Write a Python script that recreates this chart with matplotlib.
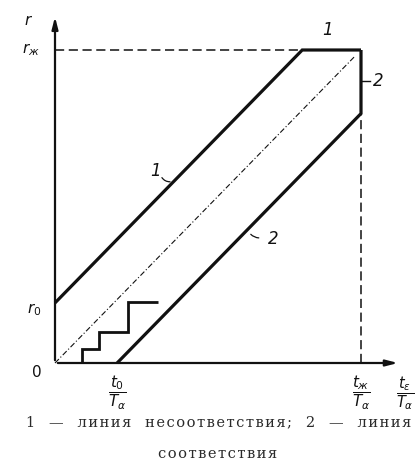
import matplotlib
matplotlib.use("Agg")
import matplotlib.pyplot as plt

# ---- data (normalised units: t_zh/T_a = 1, r_zh = 1) ----
t0 = 0.203          # t0 / T_alpha
r0 = 0.192          # r0
t_end = 1.0         # t_zh / T_alpha
r_end = 1.0         # r_zh
# line 1 (non-correspondence): r = r0 + t, then horizontal at r_zh
line1_t = [0.0, 1.0 - r0, 1.0]
line1_r = [r0, 1.0, 1.0]
# line 2 (correspondence): r = t - t0, then vertical at t_zh
line2_t = [t0, 1.0, 1.0]
line2_r = [0.0, 1.0 - t0, 1.0]
# diagonal
diag_t = [0.0, 0.98]
diag_r = [0.0, 0.98]
# staircase
stair_t = [0.088, 0.088, 0.144, 0.144, 0.239, 0.239, 0.337]
stair_r = [0.0, 0.045, 0.045, 0.099, 0.099, 0.195, 0.195]
# axis extents
x_axis_end = 1.13
y_axis_end = 1.115

caption1 = ["1", "—", "линия", "несоответствия;", "2", "—", "линия"]
caption2 = ["соответствия"]

fig = plt.figure(figsize=(4.16, 4.61), dpi=100)
ax = fig.add_axes([0, 0, 1, 1])
ax.set_xlim(-55 / 306, (416 - 55) / 306)
ax.set_ylim(-(461 - 363) / 313, 363 / 313)
ax.axis("off")

k = "#111111"
# axes with arrows
ax.annotate("", xy=(x_axis_end, 0), xytext=(0, 0),
            arrowprops=dict(arrowstyle="-|>,head_length=0.7,head_width=0.18", color=k, lw=1.6))
ax.annotate("", xy=(0, y_axis_end), xytext=(0, 0),
            arrowprops=dict(arrowstyle="-|>,head_length=0.7,head_width=0.18", color=k, lw=1.6))

# dashed guides
ax.plot([0, line1_t[1]], [r_end, r_end], color=k, lw=1.1, ls=(0, (6, 3)))
ax.plot([t_end, t_end], [0, line2_r[1]], color=k, lw=1.1, ls=(0, (6, 3)))
ax.plot(diag_t, diag_r, color=k, lw=0.8, ls=(0, (5, 2, 1, 2)))

# thick lines
ax.plot(line1_t, line1_r, color=k, lw=2.3, solid_joinstyle="miter", solid_capstyle="butt")
ax.plot(line2_t, line2_r, color=k, lw=2.3, solid_joinstyle="miter", solid_capstyle="butt")
ax.plot(stair_t, stair_r, color=k, lw=2.0, solid_joinstyle="miter", solid_capstyle="butt")

# leaders
ax.plot([1.0, 1.03], [0.9, 0.9], color=k, lw=1.0)
ax.annotate("", xy=(0.385, 0.58), xytext=(0.345, 0.6),
            arrowprops=dict(arrowstyle="-", color=k, lw=0.9, connectionstyle="arc3,rad=0.4"))
ax.annotate("", xy=(0.634, 0.418), xytext=(0.675, 0.40),
            arrowprops=dict(arrowstyle="-", color=k, lw=0.9, connectionstyle="arc3,rad=-0.3"))

fs = 12
ax.text(0.89, 1.065, "1", fontsize=fs, style="italic", ha="center", va="center", color=k)
ax.text(1.055, 0.9, "2", fontsize=fs, style="italic", ha="center", va="center", color=k)
ax.text(0.33, 0.615, "1", fontsize=fs, style="italic", ha="center", va="center", color=k)
ax.text(0.712, 0.395, "2", fontsize=fs, style="italic", ha="center", va="center", color=k)

# axis labels
ax.text(-0.085, 1.095, r"$r$", fontsize=11, ha="center", va="center", color=k)
ax.text(-0.05, r_end, r"$r_{ж}$", fontsize=11, ha="right", va="center", color=k)
ax.text(-0.045, r0 - 0.02, r"$r_0$", fontsize=11, ha="right", va="center", color=k)
ax.text(-0.06, -0.03, r"$0$", fontsize=11, ha="center", va="center", color=k)
ax.text(t0, -0.095, r"$\dfrac{t_0}{T_\alpha}$", fontsize=11, ha="center", va="center", color=k)
ax.text(t_end, -0.095, r"$\dfrac{t_{ж}}{T_\alpha}$", fontsize=11, ha="center", va="center", color=k)
ax.text(1.145, -0.095, r"$\dfrac{t_\varepsilon}{T_\alpha}$", fontsize=10.5, ha="center", va="center", color=k)

# caption (letter-spaced)
def spaced(words):
    return "   ".join("\u200a".join(w) for w in words)

ax.text(0.535, -0.19, spaced(caption1), fontsize=10.5,
        family="DejaVu Serif", ha="center", va="center", color="#2a2a2a")
ax.text(0.53, -0.292, spaced(caption2), fontsize=10.5,
        family="DejaVu Serif", ha="center", va="center", color="#2a2a2a")

fig.savefig("out.png", dpi=100)
